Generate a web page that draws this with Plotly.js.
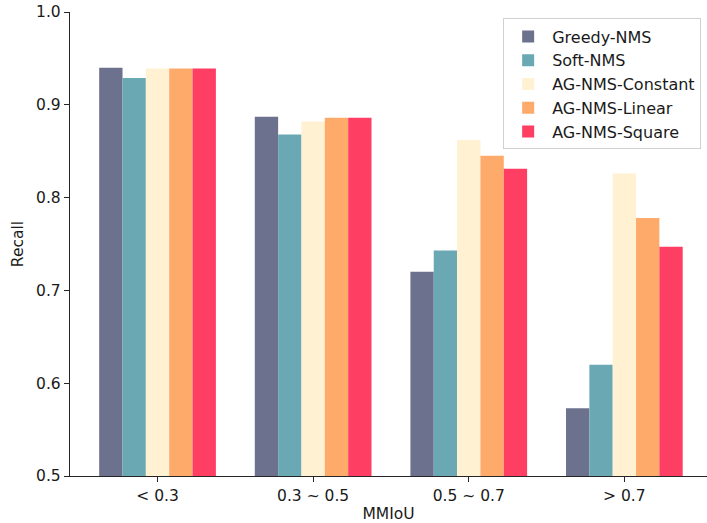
<!DOCTYPE html>
<html>
<head>
<meta charset="utf-8">
<script src="https://cdn.plot.ly/plotly-3.0.1.min.js"></script>
<style>html,body{margin:0;padding:0;background:#fff;}#chart{width:707px;height:523px;}</style>
</head>
<body>
<div id="chart"></div>
<script>
var categories = ["< 0.3", "0.3 ~ 0.5", "0.5 ~ 0.7", "> 0.7"];
var seriesNames = ["Greedy-NMS", "Soft-NMS", "AG-NMS-Constant", "AG-NMS-Linear", "AG-NMS-Square"];
var greedyNMS = [0.940, 0.887, 0.720, 0.573];
var softNMS = [0.929, 0.868, 0.743, 0.620];
var agConstant = [0.939, 0.882, 0.862, 0.826];
var agLinear = [0.939, 0.886, 0.845, 0.778];
var agSquare = [0.939, 0.886, 0.831, 0.747];
var colors = ["#6C718E", "#6AA9B3", "#FFF1D1", "#FEAA6A", "#FF3E64"];
var yTicks = [0.5, 0.6, 0.7, 0.8, 0.9, 1.0];
var yTickText = ["0.5", "0.6", "0.7", "0.8", "0.9", "1.0"];

var allSeries = [greedyNMS, softNMS, agConstant, agLinear, agSquare];
var xIdx = categories.map(function(_, i){ return i; });
var traces = allSeries.map(function(vals, k){
  return {
    type: "bar",
    name: seriesNames[k],
    x: xIdx,
    y: vals,
    base: 0,
    marker: {color: colors[k], line: {width: 0}},
    legendgroup: "g" + k,
    hoverinfo: "y+name"
  };
});

var fam = "DejaVu Sans, sans-serif";
var txt = "#1a1a1a";
var layout = {
  width: 707, height: 523,
  margin: {l: 70, r: 0, t: 12, b: 47, pad: 0},
  paper_bgcolor: "#fff", plot_bgcolor: "#fff",
  font: {family: fam, size: 15.5, color: txt},
  barmode: "group",
  bargap: 0.25, bargroupgap: 0,
  showlegend: true,
  legend: {
    x: 0.68, y: 0.986, xanchor: "left", yanchor: "top",
    bordercolor: "#d0d0d0", borderwidth: 1, bgcolor: "rgba(255,255,255,0.8)",
    font: {family: fam, size: 16, color: txt},
    traceorder: "grouped", tracegroupgap: 0, itemwidth: 38
  },
  xaxis: {
    range: [-0.5625, 3.531],
    tickmode: "array", tickvals: xIdx, ticktext: categories,
    tickfont: {family: fam, size: 15.5, color: txt},
    showline: true, linecolor: "#262626", linewidth: 1.2,
    ticks: "outside", ticklen: 5, tickwidth: 1, tickcolor: "#262626",
    showgrid: false, zeroline: false, fixedrange: true,
    title: {text: "MMIoU", font: {family: fam, size: 15.5, color: txt}, standoff: 4}
  },
  yaxis: {
    range: [0.5, 1.0],
    tickmode: "array", tickvals: yTicks, ticktext: yTickText,
    tickfont: {family: fam, size: 15.5, color: txt},
    showline: true, linecolor: "#262626", linewidth: 1.2,
    ticks: "outside", ticklen: 5, tickwidth: 1, tickcolor: "#262626",
    showgrid: false, zeroline: false, fixedrange: true,
    title: {text: "Recall", font: {family: fam, size: 15.5, color: txt}, standoff: 8}
  }
};
Plotly.newPlot("chart", traces, layout, {displayModeBar: false, staticPlot: true});
</script>
</body>
</html>
